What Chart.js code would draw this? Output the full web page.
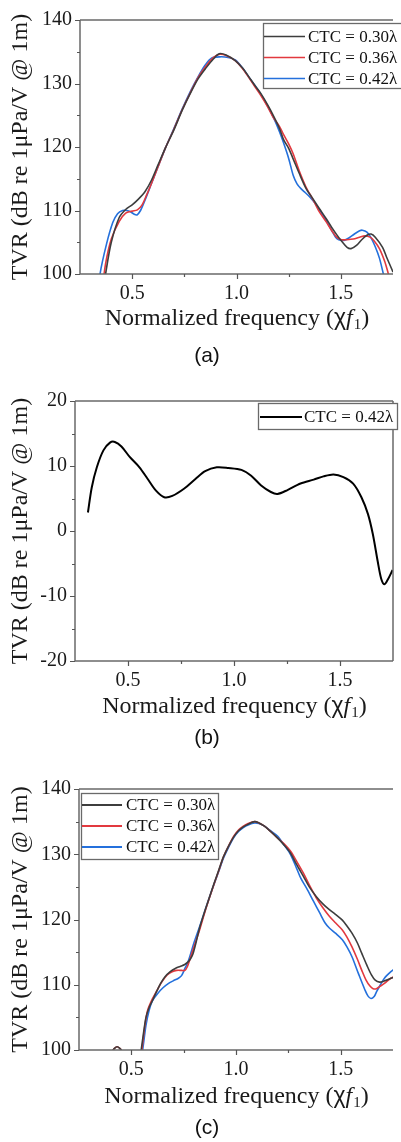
<!DOCTYPE html>
<html>
<head>
<meta charset="utf-8">
<script src="https://cdn.jsdelivr.net/npm/chart.js@4/dist/chart.umd.min.js"></script>
<style>
  html, body { margin: 0; padding: 0; background: #fff; overflow: hidden; }
  #wrap { position: relative; width: 401px; height: 1142px; }
  canvas { position: absolute; left: 0; }
  .cap { position: absolute; left: 0; width: 414px; text-align: center; font: 21px "Liberation Sans", Arial, sans-serif; color: #111; }
</style>
</head>
<body>
<div id="wrap">
  <canvas id="chartA" width="401" height="344" style="top:0px"></canvas>
  <div class="cap" style="top:343px">(a)</div>
  <canvas id="chartB" width="401" height="351" style="top:380px"></canvas>
  <div class="cap" style="top:725px">(b)</div>
  <canvas id="chartC" width="401" height="360" style="top:760px"></canvas>
  <div class="cap" style="top:1115px">(c)</div>
</div>
<script>
// ---- panel (a) ----
const aFreq30 = [0.36, 0.375, 0.40, 0.438, 0.47, 0.50, 0.53, 0.562, 0.593, 0.623, 0.66, 0.70, 0.74, 0.778, 0.815, 0.855, 0.89, 0.917, 0.95, 0.994, 1.03, 1.056, 1.09, 1.117, 1.15, 1.179, 1.205, 1.225, 1.25, 1.272, 1.30, 1.333, 1.365, 1.395, 1.43, 1.457, 1.48, 1.503, 1.53, 1.549, 1.575, 1.60, 1.625, 1.645, 1.665, 1.70, 1.72, 1.75, 1.77];
const aTvr30  = [97, 100.5, 105, 108.9, 110.2, 110.9, 111.8, 113.0, 114.8, 117.1, 119.9, 122.7, 125.8, 128.4, 130.7, 132.5, 133.9, 134.7, 134.5, 133.6, 132.4, 131.2, 129.6, 128.4, 126.6, 124.8, 123.0, 121.2, 119.8, 118.1, 115.9, 113.5, 111.9, 110.4, 108.7, 107.3, 106.2, 105.2, 104.2, 104.0, 104.5, 105.4, 106.1, 106.3, 105.8, 104.2, 102.6, 100.3, 98.5];
const aFreq36 = [0.355, 0.372, 0.40, 0.438, 0.469, 0.50, 0.525, 0.546, 0.57, 0.593, 0.623, 0.66, 0.70, 0.74, 0.778, 0.815, 0.855, 0.89, 0.92, 0.95, 0.994, 1.03, 1.056, 1.09, 1.117, 1.15, 1.179, 1.205, 1.225, 1.25, 1.272, 1.30, 1.333, 1.365, 1.395, 1.43, 1.457, 1.48, 1.503, 1.53, 1.56, 1.59, 1.615, 1.64, 1.66, 1.685, 1.71, 1.728, 1.745];
const aTvr36  = [97, 101.5, 105.5, 108.3, 109.6, 109.9, 110.1, 110.8, 112.5, 114.3, 116.8, 119.9, 122.8, 125.9, 128.5, 130.9, 132.8, 134.1, 134.6, 134.4, 133.6, 132.3, 131.1, 129.4, 128.1, 126.3, 124.5, 123.3, 122.0, 120.5, 118.9, 116.3, 113.7, 111.8, 109.9, 108.2, 106.8, 105.8, 105.4, 105.4, 105.5, 105.8, 106.0, 105.8, 105.2, 104.0, 102.0, 100.0, 98];
const aFreq42 = [0.34, 0.346, 0.377, 0.407, 0.43, 0.454, 0.475, 0.492, 0.51, 0.523, 0.54, 0.56, 0.593, 0.623, 0.66, 0.70, 0.74, 0.778, 0.815, 0.85, 0.88, 0.92, 0.96, 0.994, 1.03, 1.06, 1.09, 1.117, 1.15, 1.179, 1.205, 1.225, 1.25, 1.272, 1.29, 1.31, 1.33, 1.349, 1.375, 1.40, 1.43, 1.457, 1.475, 1.49, 1.515, 1.54, 1.565, 1.59, 1.603, 1.625, 1.645, 1.665, 1.685, 1.704, 1.72];
const aTvr42  = [97, 100, 104.7, 108.1, 109.5, 110.0, 110.0, 109.8, 109.4, 109.3, 110.0, 111.5, 114.3, 116.8, 119.9, 122.9, 126.0, 128.7, 131.0, 132.9, 134.0, 134.2, 134.1, 133.7, 132.4, 131.0, 129.6, 128.3, 126.4, 124.5, 122.5, 120.7, 118.2, 115.5, 114.2, 113.4, 112.8, 112.2, 111.2, 110.0, 108.4, 106.8, 105.8, 105.4, 105.3, 105.7, 106.3, 106.8, 106.9, 106.6, 105.7, 104.3, 102.5, 100, 98];

// ---- panel (b) ----
const bFreq42 = [0.311, 0.329, 0.353, 0.384, 0.415, 0.438, 0.469, 0.508, 0.554, 0.593, 0.632, 0.671, 0.709, 0.764, 0.818, 0.864, 0.919, 0.973, 1.035, 1.081, 1.128, 1.174, 1.205, 1.252, 1.314, 1.376, 1.422, 1.469, 1.516, 1.562, 1.601, 1.632, 1.655, 1.678, 1.694, 1.709, 1.725, 1.748];
const bTvr42  = [2.85, 6.7, 9.8, 12.4, 13.6, 13.7, 13.0, 11.4, 9.8, 8.0, 6.2, 5.2, 5.4, 6.5, 8.0, 9.2, 9.8, 9.7, 9.4, 8.5, 7.0, 6.0, 5.7, 6.3, 7.3, 7.9, 8.4, 8.7, 8.3, 7.3, 5.2, 2.6, -0.5, -4.7, -7.3, -8.2, -7.5, -6.0];

// ---- panel (c) ----
const cFreq30 = [0.38, 0.41, 0.432, 0.455, 0.49, 0.53, 0.547, 0.56, 0.57, 0.585, 0.601, 0.62, 0.64, 0.66, 0.686, 0.71, 0.733, 0.755, 0.771, 0.785, 0.795, 0.81, 0.826, 0.85, 0.872, 0.895, 0.919, 0.94, 0.965, 0.99, 1.012, 1.035, 1.058, 1.089, 1.11, 1.136, 1.165, 1.198, 1.23, 1.26, 1.29, 1.322, 1.35, 1.384, 1.415, 1.446, 1.475, 1.508, 1.53, 1.554, 1.58, 1.601, 1.625, 1.647, 1.665, 1.686, 1.71, 1.74, 1.76];
const cTvr30  = [96, 99.8, 100.5, 99.8, 96, 96.5, 100, 103.0, 105.0, 106.5, 107.6, 108.9, 110.2, 111.2, 112.0, 112.5, 112.8, 113.1, 113.5, 114.1, 114.8, 116.6, 118.7, 121.2, 123.3, 125.5, 127.7, 129.6, 131.3, 132.7, 133.6, 134.2, 134.6, 135.0, 134.8, 134.3, 133.5, 132.5, 131.4, 130.2, 128.4, 126.6, 125.0, 123.5, 122.4, 121.5, 120.8, 119.9, 119.0, 117.9, 116.4, 114.8, 113.0, 111.5, 110.7, 110.4, 110.6, 111.0, 111.2];
const cFreq36 = [0.38, 0.41, 0.432, 0.455, 0.49, 0.53, 0.55, 0.565, 0.578, 0.60, 0.624, 0.645, 0.671, 0.695, 0.717, 0.74, 0.756, 0.768, 0.779, 0.80, 0.826, 0.85, 0.872, 0.895, 0.919, 0.94, 0.965, 0.99, 1.012, 1.035, 1.058, 1.089, 1.11, 1.136, 1.165, 1.198, 1.23, 1.26, 1.29, 1.322, 1.35, 1.384, 1.415, 1.446, 1.475, 1.508, 1.53, 1.554, 1.58, 1.601, 1.62, 1.64, 1.655, 1.671, 1.69, 1.709, 1.74, 1.76];
const cTvr36  = [96, 99.8, 100.5, 99.8, 96, 96.5, 100, 103.8, 106.1, 107.8, 109.2, 110.4, 111.5, 112.0, 112.2, 112.2, 112.2, 112.8, 113.8, 115.9, 118.4, 121.0, 123.2, 125.4, 127.6, 129.6, 131.3, 132.8, 133.7, 134.3, 134.7, 135.0, 134.8, 134.3, 133.5, 132.5, 131.6, 130.5, 128.9, 127.1, 125.3, 123.3, 121.8, 120.5, 119.5, 118.4, 117.3, 115.8, 113.9, 112.2, 110.8, 109.8, 109.4, 109.4, 109.8, 110.2, 111.0, 111.3];
const cFreq42 = [0.40, 0.43, 0.46, 0.50, 0.535, 0.554, 0.57, 0.585, 0.60, 0.624, 0.65, 0.678, 0.70, 0.725, 0.74, 0.756, 0.768, 0.779, 0.80, 0.826, 0.85, 0.872, 0.895, 0.919, 0.94, 0.965, 0.99, 1.012, 1.035, 1.058, 1.089, 1.11, 1.136, 1.165, 1.198, 1.23, 1.26, 1.29, 1.31, 1.337, 1.37, 1.40, 1.425, 1.446, 1.475, 1.508, 1.53, 1.554, 1.585, 1.616, 1.63, 1.645, 1.66, 1.671, 1.69, 1.709, 1.74, 1.76];
const cTvr42  = [96, 99.5, 98, 96, 96.5, 100, 103.8, 106.1, 107.5, 108.6, 109.5, 110.2, 110.6, 111.0, 111.4, 112.5, 113.3, 114.3, 116.5, 118.9, 121.2, 123.3, 125.4, 127.5, 129.4, 131.1, 132.6, 133.5, 134.1, 134.5, 134.8, 134.7, 134.3, 133.6, 132.8, 131.4, 130.0, 127.8, 126.3, 124.8, 122.8, 121.0, 119.5, 118.7, 117.9, 116.9, 115.8, 114.3, 111.7, 109.2, 108.3, 107.9, 108.2, 108.9, 110.0, 111.0, 112.0, 112.5];

const labels3 = ["CTC = 0.30\u03bb", "CTC = 0.36\u03bb", "CTC = 0.42\u03bb"];
const colors3 = ["#3d3d3d", "#e2393f", "#2470dc"];

const SERIF = '"Liberation Serif", "Times New Roman", serif';

function pts(xs, ys) {
    return xs.map((x, i) => ({ x: x, y: ys[i] }));
}

function serie(label, color, xs, ys, width) {
    return {
        label: label,
        data: pts(xs, ys),
        borderColor: color,
        backgroundColor: color,
        borderWidth: width,
        pointRadius: 0,
        tension: 0.3,
        fill: false,
        clip: 0
    };
}

// axes, tick marks, x title
const framePlugin = {
    id: "frame",
    afterDatasetsDraw(chart, args, o) {
        const { ctx, chartArea: a, scales: { x, y } } = chart;
        ctx.save();
        ctx.strokeStyle = "#6a6a6a";
        ctx.lineWidth = 1.5;
        ctx.beginPath();
        ctx.moveTo(a.left, a.top); ctx.lineTo(a.right, a.top);
        ctx.moveTo(a.left, a.top); ctx.lineTo(a.left, a.bottom);
        ctx.moveTo(a.left - 0.75, a.bottom); ctx.lineTo(a.right, a.bottom);
        if (o.right) { ctx.moveTo(a.right, a.top); ctx.lineTo(a.right, a.bottom); }
        ctx.stroke();

        ctx.lineWidth = 1.2;
        ctx.strokeStyle = "#555";
        ctx.beginPath();
        x.ticks.forEach(t => {
            if (t.value <= x.min + 1e-9 || t.value >= x.max - 1e-9) return;
            const px = Math.round(x.getPixelForValue(t.value)) + 0.5;
            const len = t.label ? 5 : 3;
            ctx.moveTo(px, a.bottom); ctx.lineTo(px, a.bottom + len);
        });
        y.ticks.forEach(t => {
            const py = Math.round(y.getPixelForValue(t.value)) + 0.5;
            const len = t.label ? 5 : 3;
            ctx.moveTo(a.left, py); ctx.lineTo(a.left - len, py);
        });
        ctx.stroke();

        // x title with mixed fonts
        const runs = [
            { t: "Normalized frequency (", f: "24px " + SERIF, dy: 0 },
            { t: "\u03c7", f: "23px \"Liberation Sans\", sans-serif", dy: 0 },
            { t: "f", f: "italic 24px " + SERIF, dy: 0 },
            { t: "1", f: "15px " + SERIF, dy: 6 },
            { t: ")", f: "24px " + SERIF, dy: 0 }
        ];
        let total = 0;
        runs.forEach(r => { ctx.font = r.f; r.w = ctx.measureText(r.t).width; total += r.w; });
        let cx = (a.left + a.right) / 2 - total / 2;
        const cy = a.bottom + o.titleOffset;
        ctx.fillStyle = "#1a1a1a";
        ctx.textBaseline = "middle";
        ctx.textAlign = "left";
        runs.forEach(r => {
            ctx.font = r.f;
            ctx.fillText(r.t, cx, cy + r.dy);
            cx += r.w + (r.t === "f" ? 1 : 0);
        });
        ctx.restore();
    }
};

// framed legend drawn inside the plot
const boxLegend = {
    id: "boxLegend",
    afterDatasetsDraw(chart, args, o) {
        const { ctx, chartArea: a } = chart;
        const left = a.left + o.dx, top = a.top + o.dy;
        ctx.save();
        ctx.fillStyle = "#fff";
        ctx.fillRect(left, top, o.w, o.h);
        ctx.strokeStyle = "#6a6a6a";
        ctx.lineWidth = 1.3;
        ctx.strokeRect(left + 0.5, top + 0.5, o.w, o.h);
        chart.data.datasets.forEach((ds, i) => {
            const cy = top + o.first + i * o.rowH;
            ctx.strokeStyle = ds.borderColor;
            ctx.lineWidth = o.lineW || ds.borderWidth;
            ctx.beginPath();
            ctx.moveTo(left + o.lineX, cy);
            ctx.lineTo(left + o.lineX + o.lineLen, cy);
            ctx.stroke();
            ctx.fillStyle = "#111";
            ctx.font = "17px " + SERIF;
            ctx.textBaseline = "middle";
            ctx.fillText(ds.label, left + o.textX, cy + 1);
        });
        ctx.restore();
    }
};

function makeChart(id, datasets, cfg) {
    return new Chart(document.getElementById(id), {
        type: "line",
        data: { datasets: datasets },
        options: {
            responsive: false,
            animation: false,
            devicePixelRatio: 1,
            layout: { padding: { top: cfg.top, right: cfg.right, left: 0, bottom: 0 } },
            plugins: {
                legend: { display: false },
                tooltip: { enabled: false },
                frame: { right: cfg.rightBorder, titleOffset: cfg.titleOffset },
                boxLegend: cfg.legend
            },
            scales: {
                x: {
                    type: "linear",
                    min: 0.25,
                    max: 1.75,
                    afterFit: s => { s.height = 70; },
                    grid: { display: false, drawTicks: false },
                    border: { display: false },
                    ticks: {
                        stepSize: 0.25,
                        autoSkip: false,
                        maxRotation: 0,
                        padding: 8,
                        color: "#1a1a1a",
                        font: { family: SERIF, size: 20 },
                        callback: v => Math.abs(v * 2 - Math.round(v * 2)) < 1e-9 ? v.toFixed(1) : ""
                    }
                },
                y: {
                    min: cfg.ymin,
                    max: cfg.ymax,
                    afterFit: s => { s.width = cfg.left; },
                    grid: { display: false, drawTicks: false },
                    border: { display: false },
                    ticks: {
                        stepSize: 5,
                        autoSkip: false,
                        padding: 8,
                        color: "#1a1a1a",
                        font: { family: SERIF, size: 20 },
                        callback: v => v % 10 === 0 ? String(v) : ""
                    },
                    title: {
                        display: true,
                        text: "TVR (dB re 1\u03bcPa/V @ 1m)",
                        color: "#1a1a1a",
                        font: { family: SERIF, size: 24 },
                        padding: { top: 6, bottom: 0 }
                    }
                }
            }
        },
        plugins: [framePlugin, boxLegend]
    });
}

makeChart("chartA", [
    serie(labels3[0], colors3[0], aFreq30, aTvr30, 1.6),
    serie(labels3[1], colors3[1], aFreq36, aTvr36, 1.6),
    serie(labels3[2], colors3[2], aFreq42, aTvr42, 1.6)
], {
    top: 15, right: 0, left: 80, ymin: 100, ymax: 140, rightBorder: false, titleOffset: 45,
    legend: { dx: 183, dy: 3, w: 150, h: 65, first: 13.5, rowH: 21, lineX: 1, lineLen: 41, textX: 45 }
});

makeChart("chartB", [
    serie(labels3[2], "#000000", bFreq42, bTvr42, 2)
], {
    top: 21, right: 4, left: 75, ymin: -20, ymax: 20, rightBorder: true, titleOffset: 46,
    legend: { dx: 183, dy: 2, w: 139, h: 26, first: 14, rowH: 21, lineX: 2, lineLen: 42, textX: 46 }
});

makeChart("chartC", [
    serie(labels3[0], colors3[0], cFreq30, cTvr30, 1.6),
    serie(labels3[1], colors3[1], cFreq36, cTvr36, 1.6),
    serie(labels3[2], colors3[2], cFreq42, cTvr42, 1.6)
], {
    top: 29, right: 0, left: 79, ymin: 100, ymax: 140, rightBorder: false, titleOffset: 47,
    legend: { dx: 2, dy: 4, w: 137, h: 66, first: 12, rowH: 21, lineX: 1, lineLen: 40, textX: 45, lineW: 2.2 }
});
</script>
</body>
</html>
